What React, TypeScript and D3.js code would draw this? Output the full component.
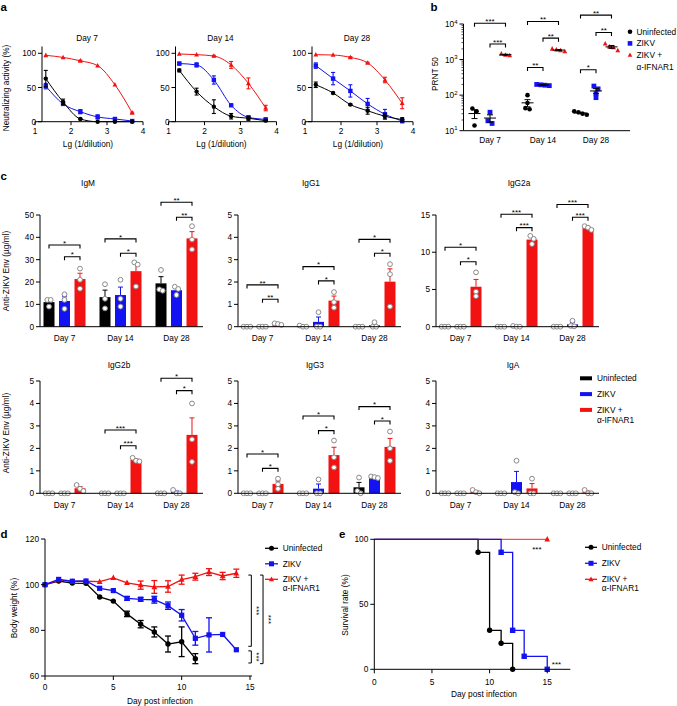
import React from "react";
import * as d3 from "d3";

const FONT = "'Liberation Sans', Arial, Helvetica, sans-serif";
const C_UN = "#000000";
const C_ZK = "#1212f2";
const C_IF = "#f21212";
const SERIES_COLORS = [C_UN, C_ZK, C_IF];
const SERIES_KINDS = ["circle", "square", "tri"];
const LEGEND_LABELS = ["Uninfected", "ZIKV", "ZIKV +"];
const LEGEND_SUB = "α-IFNAR1";

// ---------- panel a : neutralizing activity ----------
const dilutionLg = [1.3, 1.78, 2.26, 2.74, 3.22, 3.7];
const neutDays = ["Day 7", "Day 14", "Day 28"];
const neutUninf = [
  [63, 29, 4, 0, 0, 0],
  [75, 44, 22, 8, 5, 1.5],
  [54, 42, 25, 16, 8, 3],
];
const neutUninfErr = [
  [12, 4, 1, 0, 0, 0],
  [2, 5, 10, 4, 3, 1],
  [4, 1, 1, 5, 4, 3],
];
const neutZikv = [
  [52, 26, 14.6, 7, 4, 1],
  [85, 83, 61, 24, 6.4, 3.5],
  [82, 63, 45, 26, 11, 1],
];
const neutZikvErr = [
  [4, 2, 3, 3, 2, 1],
  [2, 3, 6, 1, 1, 1],
  [4, 9, 9, 8, 7, 3],
];
const neutIfnar = [
  [97, 94, 89, 82, 54, 13],
  [99, 98, 96, 83, 56, 20],
  [98, 97.5, 94, 86, 61, 27],
];
const neutIfnarErr = [
  [0.5, 0.5, 1, 0.5, 0.5, 1],
  [0.5, 0.5, 1, 5, 8, 4],
  [0.5, 0.5, 1, 1, 4, 8],
];
const neutXTicks = [1, 2, 3, 4];
const neutYTicks = [0, 50, 100];

// ---------- panel b : PRNT50 ----------
const prntDays = ["Day 7", "Day 14", "Day 28"];
const prntUninf = [[42, 35, 14], [100, 60, 43, 40], [35, 33, 30, 28]];
const prntZikv = [[33, 19, 16], [200, 190, 185, 195], [180, 150, 110, 85]];
const prntIfnar = [[1450, 1350, 1300], [2000, 1800, 1700, 1900], [2800, 2300, 1800, 2200]];
const prntTicks = [10, 100, 1000, 10000];
// [day, from, to, label, height]
const prntSig: [number, number, number, string, number][] = [
  [0, 0, 2, "***", 10500],
  [0, 1, 2, "***", 2750],
  [1, 0, 2, "**", 11700],
  [1, 1, 2, "**", 4000],
  [1, 0, 1, "**", 600],
  [2, 0, 2, "**", 17800],
  [2, 1, 2, "**", 5750],
  [2, 0, 1, "*", 515],
];

// ---------- panel c : isotypes ----------
const igDays = ["Day 7", "Day 14", "Day 28"];
// each: [uninfected, ZIKV, ZIKV+a-IFNAR1] x [day7, day14, day28] x replicate
const igM = [
  [[12, 12, 9], [19, 12.5, 8.2], [25.4, 16.7, 16.1]],
  [[14.5, 12, 8], [21, 12.5, 9], [17.9, 16.9, 14.2]],
  [[26, 21, 17], [28.8, 27.8, 18], [45, 39, 34.6]],
];
const igG1 = [
  [[0, 0, 0], [0.05, 0, 0], [0, 0, 0]],
  [[0, 0, 0], [0.65, 0, 0], [0.2, 0, 0]],
  [[0.15, 0.12, 0.08], [1.55, 1.1, 0.85], [2.8, 2.35, 0.9]],
];
const igG2a = [
  [[0, 0, 0], [0, 0, 0], [0, 0, 0]],
  [[0, 0, 0], [0.1, 0, 0], [0.8, 0.1, 0.05]],
  [[7.3, 4.7, 4.1], [12.2, 11.8, 11.1], [13.5, 13.3, 13.0]],
];
const igG2b = [
  [[0, 0, 0], [0, 0, 0], [0, 0, 0]],
  [[0, 0, 0], [0, 0, 0], [0.15, 0, 0]],
  [[0.37, 0.2, 0.1], [1.58, 1.45, 1.42], [4.0, 2.4, 1.4]],
];
const igG3 = [
  [[0, 0, 0], [0, 0, 0], [0.7, 0.1, 0]],
  [[0, 0, 0], [0.62, 0, 0], [0.75, 0.72, 0.68]],
  [[0.65, 0.4, 0.2], [2.35, 1.6, 1.15], [2.75, 2.0, 1.45]],
];
const igA = [
  [[0, 0, 0], [0, 0, 0], [0, 0, 0]],
  [[0, 0, 0], [1.45, 0.05, 0], [0, 0, 0]],
  [[0.15, 0.05, 0], [0.65, 0, 0], [0.15, 0, 0]],
];
type Sig = [number, number, number, string, number];
const igMSig: Sig[] = [
  [0, 0, 2, "*", 36.6], [0, 1, 2, "*", 31.3],
  [1, 0, 2, "*", 39.3], [1, 1, 2, "*", 32.9],
  [2, 0, 2, "**", 55.7], [2, 1, 2, "**", 49],
];
const igG1Sig: Sig[] = [
  [0, 0, 2, "**", 1.87], [0, 1, 2, "**", 1.23],
  [1, 0, 2, "*", 2.69], [1, 1, 2, "*", 2.05],
  [2, 0, 2, "*", 3.91], [2, 1, 2, "*", 3.29],
];
const igG2aSig: Sig[] = [
  [0, 0, 2, "*", 10.66], [0, 1, 2, "*", 8.72],
  [1, 0, 2, "***", 15.1], [1, 1, 2, "***", 13.3],
  [2, 0, 2, "***", 16.4], [2, 1, 2, "***", 14.7],
];
const igG2bSig: Sig[] = [
  [1, 0, 2, "***", 2.82], [1, 1, 2, "***", 2.12],
  [2, 0, 2, "*", 5.12], [2, 1, 2, "*", 4.57],
];
const igG3Sig: Sig[] = [
  [0, 0, 2, "*", 1.75], [0, 1, 2, "*", 1.11],
  [1, 0, 2, "*", 3.44], [1, 1, 2, "*", 2.79],
  [2, 0, 2, "*", 3.86], [2, 1, 2, "*", 3.22],
];
const igATicks = [0, 1, 2, 3, 4, 5];
const igMTicks = [0, 10, 20, 30, 40, 50];
const igG2aTicks = [0, 5, 10, 15];

// ---------- panel d : body weight ----------
const bwDaysUninf = [0, 1, 2, 3, 4, 5, 6, 7, 8, 9, 10, 11];
const bwUninf = [100, 101.6, 100.7, 100.6, 94.6, 92.8, 87.2, 82.7, 79.3, 74, 75, 67.6];
const bwUninfErr = [0.4, 0.5, 0.5, 0.5, 0.6, 0.6, 1.2, 1.6, 2.2, 3.5, 6.5, 2.2];
const bwDays = [0, 1, 2, 3, 4, 5, 6, 7, 8, 9, 10, 11, 12, 13, 14];
const bwZikv = [100, 102.3, 101.5, 101.6, 98.4, 97.4, 94, 93.6, 93.4, 90.8, 86.6, 76.5, 78, 78.2, 71.5];
const bwZikvErr = [0.4, 0.6, 0.5, 0.5, 0.6, 0.6, 0.8, 0.8, 1.5, 1.6, 2.5, 3, 7.5, 0.6, 0.6];
const bwIfnar = [100, 102, 101.4, 101.5, 101.3, 103, 100.8, 99.8, 99, 99.2, 102.2, 103.5, 105.5, 103.8, 105];
const bwIfnarErr = [0.4, 0.5, 0.5, 0.5, 0.5, 0.5, 0.6, 1.8, 2.8, 2.5, 2, 1.5, 1.5, 1.6, 1.8];
const bwXTicks = [0, 5, 10, 15];
const bwYTicks = [60, 80, 100, 120];
// [top value, bottom value, column, label]
const bwSig: [number, number, number, string][] = [
  [104.2, 73, 0, "***"],
  [104.2, 65.4, 1, "***"],
  [71, 65.7, 0, "***"],
];

// ---------- panel e : survival ----------
const survDaysUninf = [0, 9, 10, 11, 12];
const survUninf = [100, 90, 30, 20, 0];
const survDaysZikv = [0, 11, 12, 13, 15];
const survZikv = [100, 90, 30, 10, 0];
const survDaysIfnar = [0, 15];
const survIfnar = [100, 100];
const survXTicks = [0, 5, 10, 15];
const survYTicks = [0, 50, 100];
const survSig: [number, number, string][] = [
  [14.1, 93.5, "***"],
  [15.8, 4.6, "***"],
];

// ---------- helpers ----------
function Marker({ kind, x, y, s, fill }: { kind: string; x: number; y: number; s: number; fill: string }) {
  if (kind === "circle") return <circle cx={x} cy={y} r={s / 2} fill={fill} />;
  if (kind === "square") return <rect x={x - s / 2} y={y - s / 2} width={s} height={s} fill={fill} />;
  const h = s * 0.95;
  return <path d={`M${x},${y - h * 0.6}L${x + s / 2},${y + h * 0.4}L${x - s / 2},${y + h * 0.4}Z`} fill={fill} />;
}

function Txt(props: any) {
  return <text fontFamily={FONT} fontSize={8.3} fill="#000" {...props} />;
}

function Bracket({ x1, x2, y, label }: { x1: number; x2: number; y: number; label: string }) {
  return (
    <g>
      <path d={`M${x1},${y + 3.5}V${y}H${x2}V${y + 3.5}`} fill="none" stroke="#000" strokeWidth={1.1} />
      <text x={(x1 + x2) / 2} y={y + 0.6} textAnchor="middle" fontFamily={FONT} fontSize={8} fill="#000">
        {label}
      </text>
    </g>
  );
}

function spread(vals: number[], ypx: (v: number) => number, thr: number, gap: number) {
  const idx = vals.map((_, i) => i).sort((a, b) => ypx(vals[a]) - ypx(vals[b]));
  const off = new Array(vals.length).fill(0);
  let cluster: number[] = [];
  const flush = () => {
    cluster.forEach((id, k) => {
      off[id] = (k - (cluster.length - 1) / 2) * gap;
    });
    cluster = [];
  };
  idx.forEach((id) => {
    if (cluster.length && Math.abs(ypx(vals[id]) - ypx(vals[cluster[cluster.length - 1]])) > thr) flush();
    cluster.push(id);
  });
  flush();
  return off;
}

function sem(v: number[]) {
  const sd = d3.deviation(v) || 0;
  return sd / Math.sqrt(v.length);
}

// ---------- panel a ----------
function NeutPanel({ di, x1 }: { di: number; x1: number }) {
  const x = d3.scaleLinear().domain([1, 4]).range([x1, x1 + 108]);
  const y = d3.scaleLinear().domain([0, 100]).range([121.7, 53.3]);
  const ax = x1 + 7;
  const series = [
    { v: neutIfnar[di], e: neutIfnarErr[di], c: C_IF, k: "tri", s: 4.8 },
    { v: neutZikv[di], e: neutZikvErr[di], c: C_ZK, k: "square", s: 4.4 },
    { v: neutUninf[di], e: neutUninfErr[di], c: C_UN, k: "circle", s: 4.4 },
  ];
  const line = d3
    .line<number>()
    .x((_, i) => x(dilutionLg[i]))
    .y((v) => y(v))
    .curve(d3.curveMonotoneX);
  return (
    <g>
      <Txt x={x1 + 52} y={41} textAnchor="middle">{neutDays[di]}</Txt>
      {series.map((s, si) => (
        <g key={si}>
          <path d={line(s.v) || ""} fill="none" stroke={s.c} strokeWidth={1} />
          {s.v.map((v, i) =>
            s.e[i] > 0.6 ? (
              <g key={i} stroke={s.c} strokeWidth={1.1}>
                <line x1={x(dilutionLg[i])} x2={x(dilutionLg[i])} y1={y(Math.max(v - s.e[i], -1.5))} y2={y(v + s.e[i])} />
                <line x1={x(dilutionLg[i]) - 2} x2={x(dilutionLg[i]) + 2} y1={y(v + s.e[i])} y2={y(v + s.e[i])} />
                <line x1={x(dilutionLg[i]) - 2} x2={x(dilutionLg[i]) + 2} y1={y(Math.max(v - s.e[i], -1.5))} y2={y(Math.max(v - s.e[i], -1.5))} />
              </g>
            ) : null
          )}
          {s.v.map((v, i) => (
            <Marker key={"m" + i} kind={s.k} x={x(dilutionLg[i])} y={y(v)} s={s.s} fill={s.c} />
          ))}
        </g>
      ))}
      <line x1={ax} x2={ax} y1={y(0)} y2={y(110)} stroke="#000" strokeWidth={1} />
      {neutYTicks.map((t) => (
        <g key={t}>
          <line x1={ax - 4} x2={ax} y1={y(t)} y2={y(t)} stroke="#000" />
          <Txt x={ax - 6} y={y(t) + 3} textAnchor="end">{t}</Txt>
        </g>
      ))}
      <line x1={x(1)} x2={x(4)} y1={y(0)} y2={y(0)} stroke="#000" strokeWidth={1} />
      {neutXTicks.map((t) => (
        <g key={t}>
          <line x1={x(t)} x2={x(t)} y1={y(0)} y2={y(0) + 3.5} stroke="#000" />
          <Txt x={x(t)} y={133.8} textAnchor="middle">{t}</Txt>
        </g>
      ))}
      <Txt x={x1 + 53} y={147} textAnchor="middle">Lg (1/dilution)</Txt>
    </g>
  );
}

// ---------- panel b ----------
function PrntPanel() {
  const y = d3.scaleLog().domain([10, 10000]).range([130.7, 24]);
  const gx = d3.scaleBand<number>().domain([0, 1, 2]).range([463.5, 622.5]);
  const sx = d3.scalePoint<number>().domain([0, 1, 2]).range([-15.5, 15.5]);
  const ax = 463.5;
  const data = [prntUninf, prntZikv, prntIfnar];
  const cx = (d: number, s: number) => (gx(d) as number) + gx.bandwidth() / 2 + (sx(s) as number);
  const minor: number[] = [];
  [10, 100, 1000].forEach((dec) => {
    for (let k = 2; k <= 9; k++) minor.push(dec * k);
  });
  return (
    <g>
      {data.map((ser, si) =>
        ser.map((vals, di) => {
          const m = d3.mean(vals) as number;
          const e = sem(vals);
          const offs = spread(vals, (v) => y(v), 3.5, 4.2);
          const c = cx(di, si);
          return (
            <g key={si + "-" + di}>
              {vals.map((v, i) => (
                <Marker key={i} kind={SERIES_KINDS[si]} x={c + offs[i]} y={y(v)} s={si === 0 ? 4.6 : 4.8} fill={SERIES_COLORS[si]} />
              ))}
              <g stroke="#000" strokeWidth={1}>
                <line x1={c - 6} x2={c + 6} y1={y(m)} y2={y(m)} />
                <line x1={c} x2={c} y1={y(m - e)} y2={y(m + e)} />
                <line x1={c - 3} x2={c + 3} y1={y(m - e)} y2={y(m - e)} />
                <line x1={c - 3} x2={c + 3} y1={y(m + e)} y2={y(m + e)} />
              </g>
            </g>
          );
        })
      )}
      {prntSig.map(([d, a, b, lab, h], i) => (
        <Bracket key={i} x1={cx(d, a)} x2={cx(d, b)} y={y(h)} label={lab} />
      ))}
      <line x1={ax} x2={ax} y1={y(10)} y2={y(10000)} stroke="#000" />
      {minor.map((t) => (
        <line key={t} x1={ax - 2} x2={ax} y1={y(t)} y2={y(t)} stroke="#000" strokeWidth={0.7} />
      ))}
      {prntTicks.map((t) => (
        <g key={t}>
          <line x1={ax - 4} x2={ax} y1={y(t)} y2={y(t)} stroke="#000" />
          <text x={ax - 6} y={y(t) + 3} textAnchor="end" fontFamily={FONT} fontSize={8.3}>
            10<tspan dy={-3.5} fontSize={6}>{Math.round(Math.log10(t))}</tspan>
          </text>
        </g>
      ))}
      <line x1={ax} x2={630} y1={y(10)} y2={y(10)} stroke="#000" />
      {prntDays.map((d, i) => (
        <Txt key={d} x={cx(i, 1)} y={143} textAnchor="middle">{d}</Txt>
      ))}
      <Txt transform="translate(438,74) rotate(-90)" textAnchor="middle">PRNT 50</Txt>
      {LEGEND_LABELS.map((l, i) => (
        <g key={l}>
          <Marker kind={SERIES_KINDS[i]} x={630} y={31.7 + i * 11.7} s={4.6} fill={SERIES_COLORS[i]} />
          <Txt x={636.5} y={34.7 + i * 11.7}>{l}</Txt>
        </g>
      ))}
      <Txt x={636.5} y={69.7}>{LEGEND_SUB}</Txt>
    </g>
  );
}

// ---------- panel c ----------
function IgPanel({
  data, sig, title, titleX, titleY, x0, yZero, yTop, ticks,
}: {
  data: number[][][]; sig: Sig[]; title: string; titleX: number; titleY: number; x0: number; yZero: number; yTop: number; ticks: number[];
}) {
  const yMax = ticks[ticks.length - 1];
  const y = d3.scaleLinear().domain([0, yMax]).range([yZero, yTop]);
  const gx = d3.scaleBand<number>().domain([0, 1, 2]).range([x0 - 3.5, x0 + 164.5]);
  const sx = d3.scaleBand<number>().domain([0, 1, 2]).range([-21, 21]).paddingInner(0.29);
  const bw = sx.bandwidth();
  const cx = (d: number, s: number) => (gx(d) as number) + gx.bandwidth() / 2 + (sx(s) as number) + bw / 2;
  return (
    <g>
      <Txt x={titleX} y={titleY} textAnchor="middle">{title}</Txt>
      {data.map((ser, si) =>
        ser.map((vals, di) => {
          const m = d3.mean(vals) as number;
          const e = sem(vals);
          const c = cx(di, si);
          return (
            <g key={si + "-" + di}>
              <rect x={c - bw / 2} y={y(m)} width={bw} height={y(0) - y(m)} fill={SERIES_COLORS[si]} />
              {e > 0.001 ? (
                <g stroke={SERIES_COLORS[si]} strokeWidth={1}>
                  <line x1={c} x2={c} y1={y(m)} y2={y(m + e)} />
                  <line x1={c - 2.5} x2={c + 2.5} y1={y(m + e)} y2={y(m + e)} />
                </g>
              ) : null}
            </g>
          );
        })
      )}
      {data.map((ser, si) =>
        ser.map((vals, di) => {
          const offs = spread(vals, (v) => y(v), 4, 3.4);
          const c = cx(di, si);
          return vals.map((v, i) => (
            <circle key={si + "-" + di + "-" + i} cx={c + offs[i]} cy={y(v)} r={2.4} fill="#fff" stroke="#8a8a8a" strokeWidth={1} />
          ));
        })
      )}
      {sig.map(([d, a, b, lab, h], i) => (
        <Bracket key={i} x1={cx(d, a)} x2={cx(d, b)} y={y(h)} label={lab} />
      ))}
      <line x1={x0} x2={x0} y1={y(0)} y2={y(yMax)} stroke="#000" />
      {ticks.map((t) => (
        <g key={t}>
          <line x1={x0 - 4} x2={x0} y1={y(t)} y2={y(t)} stroke="#000" />
          <Txt x={x0 - 6} y={y(t) + 3} textAnchor="end">{t}</Txt>
        </g>
      ))}
      <line x1={x0} x2={x0 + 163} y1={y(0)} y2={y(0)} stroke="#000" />
      {igDays.map((d, i) => (
        <Txt key={d} x={cx(i, 1)} y={yZero + 14.5} textAnchor="middle">{d}</Txt>
      ))}
    </g>
  );
}

// ---------- panel d ----------
function WeightPanel() {
  const x = d3.scaleLinear().domain([0, 15]).range([45, 250]);
  const y = d3.scaleLinear().domain([60, 120]).range([676, 539]);
  const series = [
    { d: bwDaysUninf, v: bwUninf, e: bwUninfErr, c: C_UN, k: "circle", s: 5.4 },
    { d: bwDays, v: bwIfnar, e: bwIfnarErr, c: C_IF, k: "tri", s: 5.8 },
    { d: bwDays, v: bwZikv, e: bwZikvErr, c: C_ZK, k: "square", s: 5.2 },
  ];
  const line = d3.line<[number, number]>().x((p) => x(p[0])).y((p) => y(p[1]));
  return (
    <g>
      {series.map((s, si) => (
        <g key={si}>
          <path d={line(s.d.map((dd, i) => [dd, s.v[i]] as [number, number])) || ""} fill="none" stroke={s.c} strokeWidth={1.3} />
          {s.v.map((v, i) =>
            s.e[i] > 0.7 ? (
              <g key={i} stroke={s.c} strokeWidth={1.3}>
                <line x1={x(s.d[i])} x2={x(s.d[i])} y1={y(v - s.e[i])} y2={y(v + s.e[i])} />
                <line x1={x(s.d[i]) - 3} x2={x(s.d[i]) + 3} y1={y(v + s.e[i])} y2={y(v + s.e[i])} />
                <line x1={x(s.d[i]) - 3} x2={x(s.d[i]) + 3} y1={y(v - s.e[i])} y2={y(v - s.e[i])} />
              </g>
            ) : null
          )}
          {s.v.map((v, i) => (
            <Marker key={"m" + i} kind={s.k} x={x(s.d[i])} y={y(v)} s={s.s} fill={s.c} />
          ))}
        </g>
      ))}
      {bwSig.map(([top, bot, col, lab], i) => {
        const bx = x(14) + 15 + col * 11.7;
        return (
          <g key={i}>
            <path d={`M${bx - 3},${y(top)}H${bx}V${y(bot)}H${bx - 3}`} fill="none" stroke="#000" strokeWidth={1} />
            <text
              transform={`translate(${bx + 2.5},${(y(top) + y(bot)) / 2}) rotate(90)`}
              textAnchor="middle"
              fontFamily={FONT}
              fontSize={8}
            >
              {lab}
            </text>
          </g>
        );
      })}
      <line x1={x(0)} x2={x(0)} y1={y(60)} y2={y(120)} stroke="#000" />
      {bwYTicks.map((t) => (
        <g key={t}>
          <line x1={x(0) - 4} x2={x(0)} y1={y(t)} y2={y(t)} stroke="#000" />
          <Txt x={x(0) - 6} y={y(t) + 3} textAnchor="end">{t}</Txt>
        </g>
      ))}
      <line x1={x(0)} x2={x(15) + 2} y1={y(60)} y2={y(60)} stroke="#000" />
      {bwXTicks.map((t) => (
        <g key={t}>
          <line x1={x(t)} x2={x(t)} y1={y(60)} y2={y(60) + 4} stroke="#000" />
          <Txt x={x(t)} y={689.6} textAnchor="middle">{t}</Txt>
        </g>
      ))}
      <Txt x={160} y={703.5} textAnchor="middle">Day post infection</Txt>
      <Txt transform="translate(17,608) rotate(-90)" textAnchor="middle">Body weight (%)</Txt>
      {LEGEND_LABELS.map((l, i) => (
        <g key={l}>
          <line x1={265} x2={278} y1={548.3 + i * 15.5} y2={548.3 + i * 15.5} stroke={SERIES_COLORS[i]} strokeWidth={1.3} />
          <Marker kind={SERIES_KINDS[i]} x={271.5} y={548.3 + i * 15.5} s={5} fill={SERIES_COLORS[i]} />
          <Txt x={282.7} y={551.3 + i * 15.5}>{l}</Txt>
        </g>
      ))}
      <Txt x={282.7} y={591.3}>{LEGEND_SUB}</Txt>
    </g>
  );
}

// ---------- panel e ----------
function SurvivalPanel() {
  const x = d3.scaleLinear().domain([0, 17]).range([374.3, 570.3]);
  const y = d3.scaleLinear().domain([0, 100]).range([669.3, 539.3]);
  const series = [
    { d: survDaysIfnar, v: survIfnar, c: C_IF, k: "tri", s: 5.6, w: 0.9 },
    { d: survDaysUninf, v: survUninf, c: C_UN, k: "circle", s: 5.4, w: 1.3 },
    { d: survDaysZikv, v: survZikv, c: C_ZK, k: "square", s: 5.4, w: 1.3 },
  ];
  const line = d3.line<[number, number]>().x((p) => x(p[0])).y((p) => y(p[1])).curve(d3.curveStepAfter);
  return (
    <g>
      {series.map((s, si) => (
        <g key={si}>
          <path d={line(s.d.map((dd, i) => [dd, s.v[i]] as [number, number])) || ""} fill="none" stroke={s.c} strokeWidth={s.w} />
          {s.v.map((v, i) =>
            i > 0 ? <Marker key={i} kind={s.k} x={x(s.d[i])} y={y(v)} s={s.s} fill={s.c} /> : null
          )}
        </g>
      ))}
      {survSig.map(([dx, vy, lab], i) => (
        <text key={i} x={x(dx)} y={y(vy) + 4} textAnchor="middle" fontFamily={FONT} fontSize={8}>{lab}</text>
      ))}
      <line x1={x(0)} x2={x(0)} y1={y(0)} y2={y(100)} stroke="#000" />
      {survYTicks.map((t) => (
        <g key={t}>
          <line x1={x(0) - 4} x2={x(0)} y1={y(t)} y2={y(t)} stroke="#000" />
          <Txt x={x(0) - 6} y={y(t) + 3} textAnchor="end">{t}</Txt>
        </g>
      ))}
      <line x1={x(0)} x2={x(17)} y1={y(0)} y2={y(0)} stroke="#000" />
      {survXTicks.map((t) => (
        <g key={t}>
          <line x1={x(t)} x2={x(t)} y1={y(0)} y2={y(0) + 4} stroke="#000" />
          <Txt x={x(t)} y={684.6} textAnchor="middle">{t}</Txt>
        </g>
      ))}
      <Txt x={484} y={697} textAnchor="middle">Day post infection</Txt>
      <Txt transform="translate(348,605) rotate(-90)" textAnchor="middle">Survival rate (%)</Txt>
      {LEGEND_LABELS.map((l, i) => (
        <g key={l}>
          <line x1={585} x2={597} y1={547.3 + i * 16} y2={547.3 + i * 16} stroke={SERIES_COLORS[i]} strokeWidth={1.3} />
          <Marker kind={SERIES_KINDS[i]} x={591} y={547.3 + i * 16} s={5} fill={SERIES_COLORS[i]} />
          <Txt x={601.7} y={550.3 + i * 16}>{l}</Txt>
        </g>
      ))}
      <Txt x={601.7} y={591.3}>{LEGEND_SUB}</Txt>
    </g>
  );
}

function PanelLetter({ x, y, t }: { x: number; y: number; t: string }) {
  return (
    <text x={x} y={y} fontFamily={FONT} fontSize={11.5} fontWeight="bold" fill="#000">
      {t}
    </text>
  );
}

export default function App() {
  const cols = [40, 238, 436];
  const row1 = { zero: 326.7, top: 215, title: 185.5 };
  const row2 = { zero: 493.3, top: 381, title: 367.5 };
  return (
    <svg
      width={677}
      height={706}
      viewBox="0 0 677 706"
      style={{ position: "absolute", left: 0, top: 0, display: "block" }}
    >
      <rect x={0} y={0} width={677} height={706} fill="#fff" />
      <PanelLetter x={0.5} y={10.5} t="a" />
      <PanelLetter x={430.5} y={10.5} t="b" />
      <PanelLetter x={0.5} y={180} t="c" />
      <PanelLetter x={0.5} y={538} t="d" />
      <PanelLetter x={339} y={538} t="e" />

      <Txt transform="translate(9,88) rotate(-90)" textAnchor="middle">Neutralizing activity (%)</Txt>
      <NeutPanel di={0} x1={35} />
      <NeutPanel di={1} x1={168.5} />
      <NeutPanel di={2} x1={305} />

      <PrntPanel />

      <Txt transform="translate(9,271) rotate(-90)" textAnchor="middle">Anti-ZIKV Env (µg/ml)</Txt>
      <Txt transform="translate(9,433) rotate(-90)" textAnchor="middle">Anti-ZIKV Env (µg/ml)</Txt>
      <IgPanel data={igM} sig={igMSig} title="IgM" titleX={88} titleY={row1.title} x0={cols[0]} yZero={row1.zero} yTop={row1.top} ticks={igMTicks} />
      <IgPanel data={igG1} sig={igG1Sig} title="IgG1" titleX={311} titleY={row1.title} x0={cols[1]} yZero={row1.zero} yTop={row1.top} ticks={igATicks} />
      <IgPanel data={igG2a} sig={igG2aSig} title="IgG2a" titleX={519} titleY={row1.title} x0={cols[2]} yZero={row1.zero} yTop={row1.top} ticks={igG2aTicks} />
      <IgPanel data={igG2b} sig={igG2bSig} title="IgG2b" titleX={119} titleY={row2.title} x0={cols[0]} yZero={row2.zero} yTop={row2.top} ticks={igATicks} />
      <IgPanel data={igG3} sig={igG3Sig} title="IgG3" titleX={315} titleY={row2.title} x0={cols[1]} yZero={row2.zero} yTop={row2.top} ticks={igATicks} />
      <IgPanel data={igA} sig={[]} title="IgA" titleX={513} titleY={row2.title} x0={cols[2]} yZero={row2.zero} yTop={row2.top} ticks={igATicks} />
      {LEGEND_LABELS.map((l, i) => (
        <g key={l}>
          <rect x={580} y={376.3 + i * 15.8} width={12} height={4} fill={SERIES_COLORS[i]} />
          <Txt x={597} y={381.3 + i * 15.8}>{l}</Txt>
        </g>
      ))}
      <Txt x={597} y={423}>{LEGEND_SUB}</Txt>

      <WeightPanel />
      <SurvivalPanel />
    </svg>
  );
}
